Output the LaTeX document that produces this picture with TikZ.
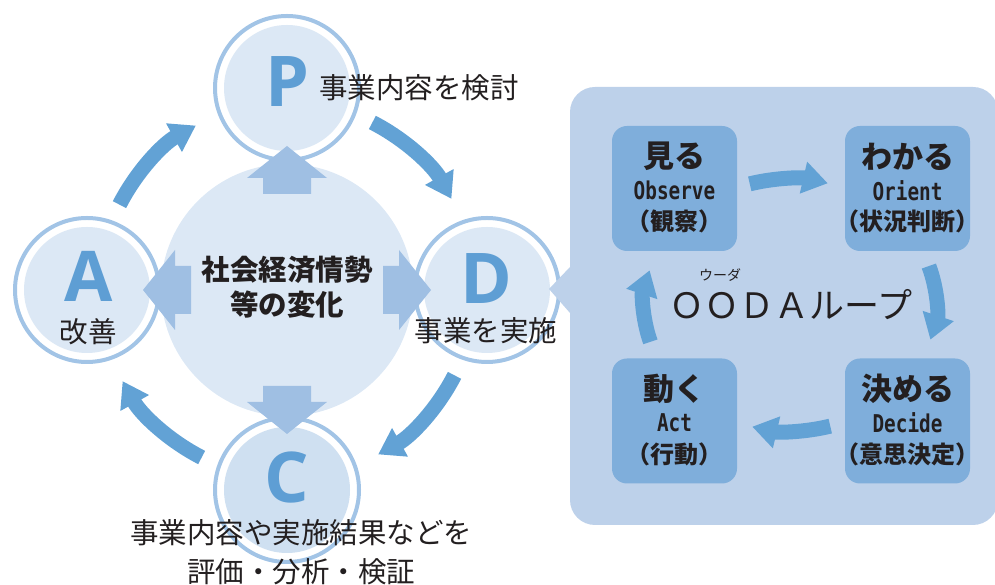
\documentclass[tikz,border=0pt]{standalone}
\usepackage{fontspec}
\setmainfont{Open Sans}
\newfontfamily\jp{Noto Sans CJK JP}
\newfontfamily\latb{Open Sans}
\newfontfamily\cmono{DejaVu Sans Mono}[FakeStretch=0.79]
\usetikzlibrary{arrows.meta}
\definecolor{ringc}{HTML}{A2C4E6}
\definecolor{diskc}{HTML}{DCE8F5}
\definecolor{diskcC}{HTML}{CFE0F1}
\definecolor{blkc}{HTML}{9FBFE3}
\definecolor{cycc}{HTML}{62A2D5}
\definecolor{letc}{HTML}{5E9ED4}
\definecolor{panelc}{HTML}{BDD1EA}
\definecolor{boxc}{HTML}{7FAEDB}
\definecolor{txt}{HTML}{231F20}
\tikzset{
  ring/.style={circle, draw=ringc, line width=4pt, fill=white, minimum size=144pt, inner sep=0pt},
  disk/.style={circle, fill=diskc, minimum size=126pt, inner sep=0pt},
  bigc/.style={circle, fill=diskc, minimum size=252pt, inner sep=0pt},
  blkarrow/.style={fill=blkc},
  cyc/.style={draw=cycc, line width=15pt, -{Triangle[length=25pt,width=31pt]}},
  letter/.style={text=letc, font=\latb\bfseries\fontsize{70}{70}\selectfont, inner sep=0pt, text height=50pt, text depth=0pt},
  lbl/.style={text=txt, font=\jp\fontsize{28.5}{28.5}\selectfont, inner sep=0pt, text height=24pt, text depth=2pt},
  clbl/.style={text=txt, font=\jp\bfseries\fontsize{28.5}{35}\selectfont, inner sep=0pt, text height=24pt, text depth=2pt},
  obox/.style={rounded corners=15pt, fill=boxc, minimum width=125pt, minimum height=125pt, inner sep=0pt},
  otitle/.style={text=txt, font=\jp\bfseries\fontsize{31}{31}\selectfont, inner sep=0pt},
  oeng/.style={text=txt, font=\cmono\bfseries\fontsize{24.5}{24.5}\selectfont, inner sep=0pt},
  ojp/.style={text=txt, font=\jp\bfseries\fontsize{24}{24}\selectfont, inner sep=0pt},
}
\begin{document}
\begin{tikzpicture}[x=1pt,y=1pt]
\useasboundingbox (0,0) rectangle (995,585);
% OODA panel
\fill[panelc, rounded corners=25pt] (570,60) rectangle (998,498);
% centres
\coordinate (cen) at (287,295);
\coordinate (O2) at (790,280);
% big circle
\node[bigc] (big) at (cen) {};
% rings
\node[ring] (Pr) at (287,497) {};
\node[ring] (Ar) at (87,295) {};
\node[ring] (Dr) at (487,295) {};
\node[ring] (Cr) at (287,95) {};
\node[disk] (Pd) at (Pr) {};
\node[disk] (Ad) at (Ar) {};
\node[disk] (Dd) at (Dr) {};
\node[disk, fill=diskcC] (Cd) at (Cr) {};
% pointer from panel to D
\fill[panelc] (570,318) -- (549,296) -- (570,272) -- cycle;
% block arrows from centre
\foreach \ang in {0,90,180,270}
  \fill[blkarrow, shift={(cen)}, rotate=\ang]
    (96,-24) -- (112,-24) -- (112,-40) -- (144,0) -- (112,40) -- (112,24) -- (96,24) -- cycle;
% PDCA cycle arrows
\draw[cyc] ([shift={(63:188)}]cen) arc[start angle=63, end angle=29, radius=188];
\draw[cyc] ([shift={(-27:188)}]cen) arc[start angle=-27, end angle=-61, radius=188];
\draw[cyc] ([shift={(-117:188)}]cen) arc[start angle=-117, end angle=-151, radius=188];
\draw[cyc] ([shift={(153:188)}]cen) arc[start angle=153, end angle=119, radius=188];
% letters
\node[letter] (P) at (287,503) {P};
\node[letter] (A) at (89,308) {A};
\node[letter] (D) at (486,306) {D};
\node[letter] (C) at (287,107) {C};
% labels
\node[lbl] (Al) at (88,253) {改善};
\node[lbl] (Pl) at (419,497) {事業内容を検討};
\node[lbl] (Dl) at (486,254) {事業を実施};
\node[lbl] (Cl1) at (301,52) {事業内容や実施結果などを};
\node[lbl] (Cl2) at (301,13) {評価・分析・検証};
\node[clbl] (cenl1) at (287,315) {社会経済情勢};
\node[clbl] (cenl2) at (287,280) {等の変化};
% OODA boxes
\node[obox] (see) at (674.5,396.5) {};
\node[obox] (ori) at (907.5,396.5) {};
\node[obox] (act) at (674.5,164) {};
\node[obox] (dec) at (907.5,164) {};
\foreach \b/\t/\e/\j in {see/見る/Observe/（観察）, ori/わかる/Orient/（状況判断）, act/動く/Act/（行動）, dec/決める/Decide/（意思決定）}{
  \node[otitle] (\b T) at ([yshift=32]\b.center) {\t};
  \node[oeng] (\b E) at ([yshift=-2]\b.center) {\e};
  \node[ojp] (\b J) at ([yshift=-33]\b.center) {\j};
}
% OODA loop arrows
\draw[cyc] ([shift={(106:146 and 126)}]O2) arc[start angle=106, end angle=75, x radius=146, y radius=126];
\draw[cyc] ([shift={(18:146 and 126)}]O2) arc[start angle=18, end angle=-16, x radius=146, y radius=126];
\draw[cyc] ([shift={(-74:146 and 126)}]O2) arc[start angle=-74, end angle=-105, x radius=146, y radius=126];
\draw[cyc] ([shift={(197:146 and 126)}]O2) arc[start angle=197, end angle=164, x radius=146, y radius=126];
% OODA title
\node[text=txt, font=\jp\fontsize{35}{35}\selectfont, inner sep=0pt] (ooda) at (791,280) {ＯＯＤＡループ};
\node[text=txt, font=\jp\fontsize{14}{14}\selectfont, inner sep=0pt] (ruby) at (720,310) {ウーダ};
\end{tikzpicture}
\end{document}
